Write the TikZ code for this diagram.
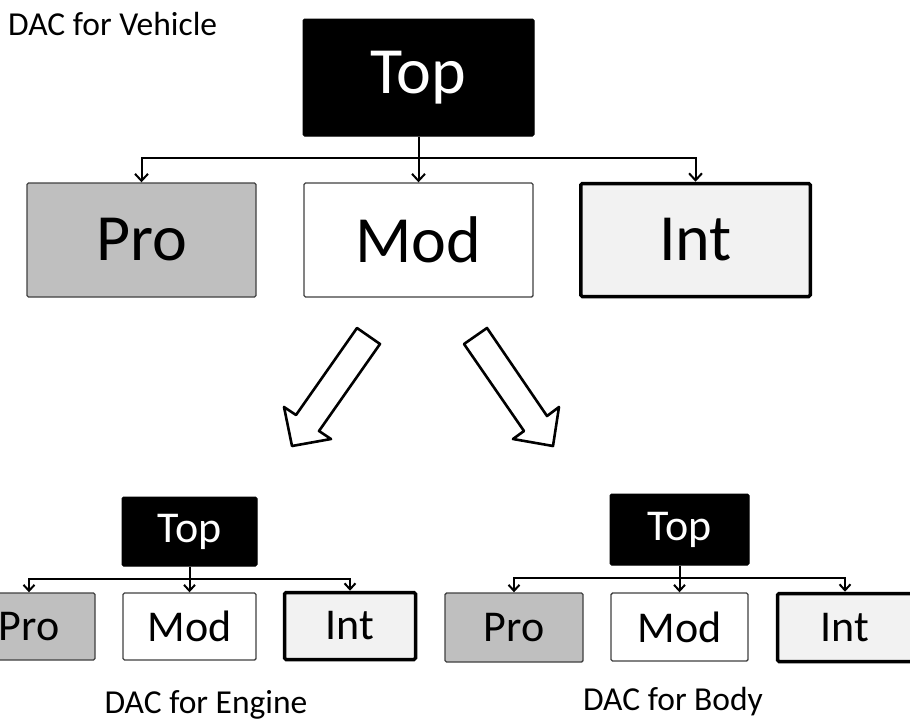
\documentclass[tikz,border=0pt]{standalone}
\usepackage{fontspec}
\setmainfont{Carlito}
\usetikzlibrary{arrows.meta}
\definecolor{progray}{HTML}{BFBFBF}
\definecolor{intgray}{HTML}{F2F2F2}
\definecolor{edgegray}{HTML}{404040}
\begin{document}
\begin{tikzpicture}[x=1pt,y=-1pt,
  basebox/.style={rectangle, inner sep=0pt, rounded corners=1.5pt},
  topbox/.style={basebox, fill=black, draw=black, line width=1pt, text=white},
  probox/.style={basebox, fill=progray, draw=edgegray, line width=1.4pt},
  modbox/.style={basebox, fill=white, draw=edgegray, line width=1.4pt},
  intbox/.style={basebox, fill=intgray, draw=black, line width=3.5pt},
  bigtxt/.style={font=\fontsize{66}{72}\selectfont},
  smalltxt/.style={font=\fontsize{44}{50}\selectfont},
  captxt/.style={font=\fontsize{33.5}{38}\selectfont, inner sep=0pt},
  bigconn/.style={line width=2pt, -{Straight Barb[length=7pt,width=13pt,line width=2pt]}},
  smallconn/.style={line width=2pt, -{Straight Barb[length=6pt,width=11pt,line width=2pt]}},
  hollow/.style={draw=black, fill=white, line width=2.6pt, line join=round}]
\useasboundingbox (0,0) rectangle (910,720);
\clip (0,0) rectangle (910,720);

% ---- DAC for Vehicle ----
\node[captxt, anchor=base west] (vtitle) at (8,35) {DAC for Vehicle};
\node[topbox, bigtxt, minimum width=231pt, minimum height=117pt] (vtop) at (418.5,77.5) {Top};
\node[probox, bigtxt, minimum width=229pt, minimum height=114pt] (vpro) at (141.5,240) {Pro};
\node[modbox, bigtxt, minimum width=229pt, minimum height=114pt] (vmod) at (418.5,240) {Mod};
\node[intbox, bigtxt, minimum width=229.5pt, minimum height=113pt] (vint) at (695.5,240) {Int};
\coordinate (vj) at (418.5,158);
\draw[bigconn] (vtop) -- (vmod);
\draw[bigconn] (vj) -| (vpro);
\draw[bigconn] (vj) -| (vint);

% ---- hollow arrows ----
\draw[hollow] (357,328) -- (380,344) -- (319,431) -- (331,439) -- (292,446) -- (284,407) -- (296,415) -- cycle;
\draw[hollow] (487,328) -- (464,344) -- (524,431) -- (513,439) -- (553,446) -- (559,407) -- (547,416) -- cycle;

% ---- DAC for Engine ----
\node[topbox, smalltxt, minimum width=135pt, minimum height=69pt] (etop) at (189.5,531.5) {Top};
\node[probox, smalltxt, minimum width=132pt, minimum height=67pt] (epro) at (29,626.5) {Pro};
\node[modbox, smalltxt, minimum width=133pt, minimum height=67pt] (emod) at (189.5,626.5) {Mod};
\node[intbox, smalltxt, minimum width=131pt, minimum height=67pt] (eint) at (350,626) {Int};
\coordinate (ej) at (189.5,579);
\draw[smallconn] (etop) -- (emod);
\draw[smallconn] (ej) -| (epro);
\draw[smallconn] (ej) -| (eint);
\node[captxt, anchor=base] (etitle) at (206,713) {DAC for Engine};

% ---- DAC for Body ----
\node[topbox, smalltxt, minimum width=139pt, minimum height=71pt] (btop) at (679.5,529.5) {Top};
\node[probox, smalltxt, minimum width=138pt, minimum height=69pt] (bpro) at (514,627.5) {Pro};
\node[modbox, smalltxt, minimum width=137pt, minimum height=68pt] (bmod) at (679.5,627) {Mod};
\node[intbox, smalltxt, minimum width=135pt, minimum height=68pt] (bint) at (845,627.5) {Int};
\coordinate (bj) at (679.5,578);
\draw[smallconn] (btop) -- (bmod);
\draw[smallconn] (bj) -| (bpro);
\draw[smallconn] (bj) -| (bint);
\node[captxt, anchor=base] (btitle) at (673,710) {DAC for Body};
\end{tikzpicture}
\end{document}
